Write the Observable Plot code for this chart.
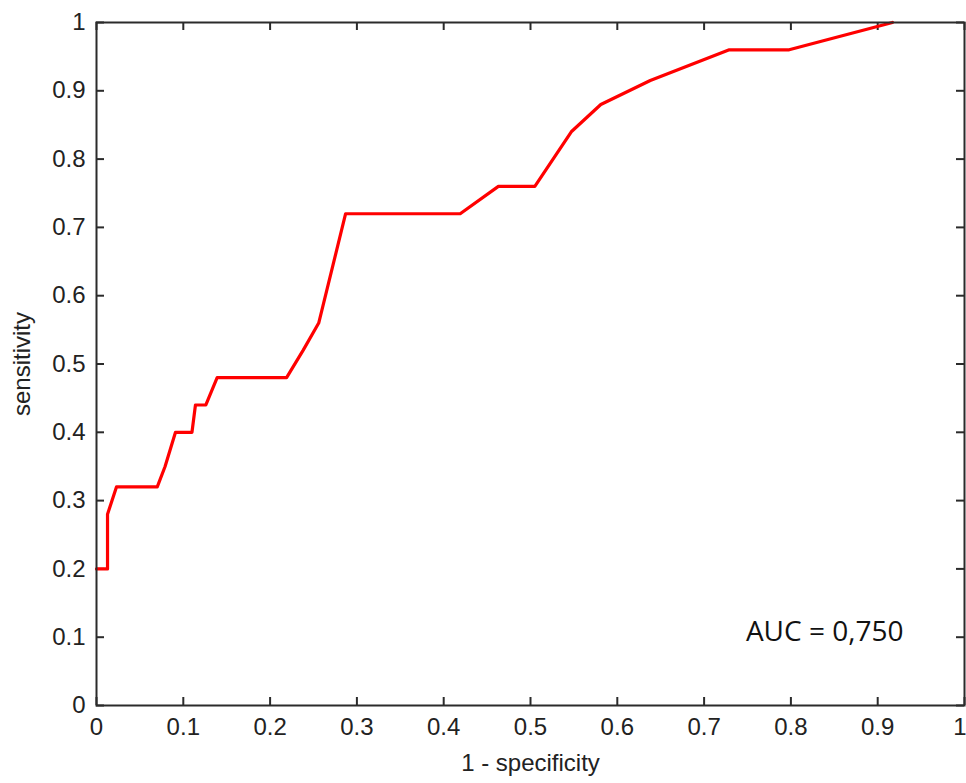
<!DOCTYPE html>
<html>
<head>
<meta charset="utf-8">
<script src="https://cdn.jsdelivr.net/npm/d3@7"></script>
<script src="https://cdn.jsdelivr.net/npm/@observablehq/plot@0.6"></script>
<style>
  html, body { margin: 0; padding: 0; background: #fff; }
  #chart svg { display: block; }
</style>
</head>
<body>
<div id="chart"></div>
<script>
// ROC curve: 1 - specificity (false positive rate) vs sensitivity
const fpr = [0, 0.0127, 0.0127, 0.023, 0.070, 0.079, 0.091, 0.110, 0.114, 0.126, 0.139, 0.219, 0.238, 0.256, 0.287, 0.419, 0.463, 0.505, 0.547, 0.581, 0.638, 0.729, 0.798, 0.917];
const tpr = [0.20, 0.20, 0.28, 0.32, 0.32, 0.35, 0.40, 0.40, 0.44, 0.44, 0.48, 0.48, 0.52, 0.56, 0.72, 0.72, 0.76, 0.76, 0.84, 0.88, 0.915, 0.96, 0.96, 1.00];
const xTicks = [0, 0.1, 0.2, 0.3, 0.4, 0.5, 0.6, 0.7, 0.8, 0.9, 1];
const yTicks = [0, 0.1, 0.2, 0.3, 0.4, 0.5, 0.6, 0.7, 0.8, 0.9, 1];
const xLabel = "1 - specificity";
const yLabel = "sensitivity";
const aucLabel = "AUC = 0,750";

const roc = fpr.map((x, i) => ({x, y: tpr[i]}));

const W = 966, H = 783;
const mL = 96, mR = 2, mT = 22, mB = 78;
const innerH = H - mT - mB;
const innerW = W - mL - mR;
const tickLen = 8;
const axisColor = "#2b2b2b";
const tickFont = "Liberation Sans, Arial, sans-serif";

const xTicksInner = xTicks.slice(0, -1);
const xTicksLast = xTicks.slice(-1);

const plot = Plot.plot({
  width: W,
  height: H,
  marginLeft: mL,
  marginRight: mR,
  marginTop: mT,
  marginBottom: mB,
  style: {fontFamily: tickFont, fontSize: "24px", color: "#222", background: "#fff"},
  x: {domain: [0, 1]},
  y: {domain: [0, 1]},
  marks: [
    Plot.axisX(xTicksInner, {tickSize: 0, tickPadding: 12, tickFormat: d => String(d), fontSize: 24, label: null, fill: "#222"}),
    Plot.axisX(xTicksLast, {tickSize: 0, tickPadding: 12, tickFormat: d => String(d), fontSize: 24, label: null, fill: "#222", textAnchor: "end", dx: 2}),
    Plot.axisY(yTicks, {tickSize: 0, tickPadding: 11, tickFormat: d => String(d), fontSize: 24, label: null, fill: "#222"}),
    // inward ticks on all four sides
    Plot.tickX(xTicks, {x: d => d, insetTop: innerH - tickLen, stroke: axisColor, strokeWidth: 2}),
    Plot.tickX(xTicks, {x: d => d, insetBottom: innerH - tickLen, stroke: axisColor, strokeWidth: 2}),
    Plot.tickY(yTicks, {y: d => d, insetRight: innerW - tickLen, stroke: axisColor, strokeWidth: 2}),
    Plot.tickY(yTicks, {y: d => d, insetLeft: innerW - tickLen, stroke: axisColor, strokeWidth: 2}),
    Plot.line(roc, {x: "x", y: "y", stroke: "#ff0000", strokeWidth: 3.2, strokeLinejoin: "round"}),
    Plot.frame({stroke: axisColor, strokeWidth: 2}),
    Plot.text([xLabel], {text: d => d, frameAnchor: "bottom", lineAnchor: "middle", textAnchor: "middle", dy: 58, fontSize: 24, fill: "#222"}),
    Plot.text([yLabel], {text: d => d, frameAnchor: "left", lineAnchor: "middle", textAnchor: "middle", rotate: -90, dx: -74, fontSize: 24, fill: "#222"}),
    Plot.text([aucLabel], {text: d => d, frameAnchor: "bottom-right", textAnchor: "end", lineAnchor: "middle", dx: -61, dy: -73, fontSize: 28, fontFamily: "Open Sans, sans-serif", fill: "#111"})
  ]
});

document.getElementById("chart").appendChild(plot);
</script>
</body>
</html>
